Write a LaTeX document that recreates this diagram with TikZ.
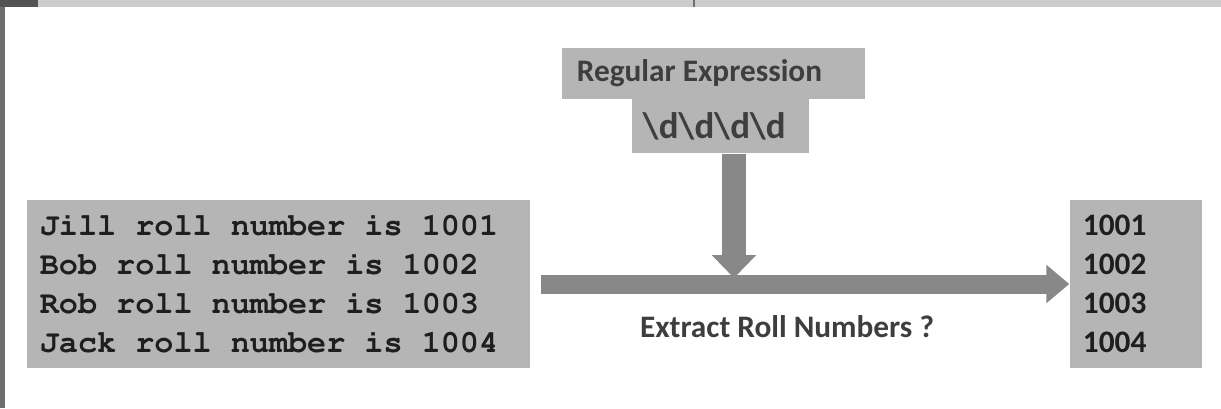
\documentclass[tikz,border=0pt]{standalone}
\usepackage[T1,TU]{fontenc}
\usepackage{fontspec}
\usepackage{tikz}
\usetikzlibrary{arrows.meta,positioning}
\newfontfamily\calibri{Carlito}
\newcommand\cursorfont{\fontencoding{T1}\fontfamily{pcr}\bfseries}
\definecolor{boxfill}{HTML}{B5B5B5}
\definecolor{arrowfill}{HTML}{888888}
\definecolor{ink}{HTML}{1E1E1E}
\definecolor{softink}{HTML}{3E3E3E}
\definecolor{frame}{HTML}{CCCCCC}
\definecolor{frameedge}{HTML}{6E6E6E}

\begin{document}
\begin{tikzpicture}[x=0.01cm, y=-0.01cm,
  greybox/.style={fill=boxfill, inner sep=0pt, align=left},
  sanslabel/.style={font=\calibri\bfseries\fontsize{8.9}{11.1}\selectfont},
  blockarrow/.style 2 args={draw=arrowfill, line width=#1, -{Triangle[length=6.5pt, width=#2]}}]
  \useasboundingbox (0,0) rectangle (1221,408);
  % screenshot edges
  \fill[frame] (0,0) rectangle (1221,7);
  \fill[frameedge!75!black] (0,0) rectangle (38,7);
  \fill[frameedge] (0,7) rectangle (5,408);
  \draw[frameedge, line width=0.3pt] (694,0) -- (694,7);
  % boxes
  \node[greybox, minimum width=5.03cm, minimum height=1.68cm, text width=4.77cm, text=ink,
        font=\cursorfont\fontsize{9.05}{11.1}\selectfont] (lines) at (278.5,284)
    {\spaceskip=0.6em\relax
     Jill roll number is 1001\\Bob roll number is 1002\\Rob roll number is 1003\\Jack roll number is 1004};
  \node[greybox, sanslabel, minimum width=1.32cm, minimum height=1.68cm, text width=1.06cm, text=ink] (ids) at (1136,284)
    {1001\\1002\\1003\\1004};
  \node[greybox, sanslabel, minimum width=3.03cm, minimum height=0.51cm, text width=2.73cm, text=softink] (regex) at (713.5,73.5)
    {\spaceskip=0pt Regular Expression};
  \node[greybox, minimum width=1.77cm, minimum height=0.54cm, text width=1.55cm, text=softink,
        font=\calibri\bfseries\fontsize{10.5}{12}\selectfont] (digits) at (720.5,126)
    {\textbackslash d\textbackslash d\textbackslash d\textbackslash d};
  % arrows
  \coordinate (meet) at (734,278);
  \draw[blockarrow={6.8pt}{12.2pt}] (digits.south -| meet) -- (meet);
  \draw[blockarrow={5.4pt}{10.5pt}, shorten <=0.1cm] (lines.east) -- (ids.west);
  \node[sanslabel, text=softink] (task) at (787,327) {Extract Roll Numbers ?};
\end{tikzpicture}
\end{document}
